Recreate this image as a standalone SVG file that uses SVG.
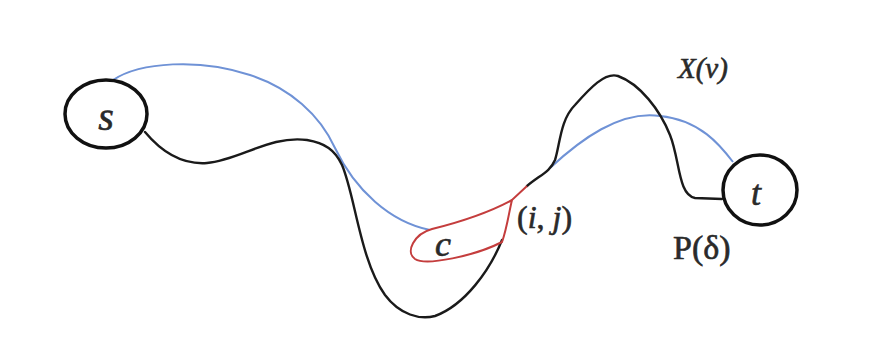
<svg xmlns="http://www.w3.org/2000/svg" width="880" height="361" viewBox="0 0 880 361">
<style>
.lbl{font-family:"Liberation Serif","DejaVu Serif",serif;fill:#2a2a2a;stroke:#2a2a2a;stroke-width:0.6}
.it{font-style:italic}
.node{fill:#fff;stroke:#111;stroke-width:3.5}
.blk{fill:none;stroke:#1a1a1a;stroke-width:2.4;stroke-linecap:round}
.blu{fill:none;stroke:#6f92d6;stroke-width:2}
.red{fill:none;stroke:#c43d3d;stroke-width:2}
</style>
<rect width="880" height="361" fill="#fff"/>
<g id="connectors">
<path class="blu" d="M113,80 C140,62 200,58 250,75 C290,88 320,115 335,148 C355,190 390,222 430,230"/>
<path class="blu" d="M550,168 C580,140 620,110 660,116 C700,120 720,145 733,162"/>
<path class="blk" d="M145,132 C160,150 180,165 207,163 C240,160 270,135 307,140 C325,143 335,150 342,165 C355,195 360,260 385,295 C400,315 420,320 435,316 C465,305 490,270 502,240"/>
<path class="blk" d="M527,186 C540,175 550,172 555,160 C560,145 560,120 575,105 C590,88 605,72 618,76 C640,84 660,110 670,135 C680,160 678,195 695,198 L722,199"/>
<path class="red" d="M527,186 L512,200 C490,212 460,222 432,229 C414,234 405,252 415,259 C426,266 475,256 502,242 C507,228 509,212 512,200"/>
</g>
<g id="node-s">
<ellipse class="node" cx="106" cy="114" rx="41" ry="34"/>
<text class="lbl it" x="106" y="130" font-size="40" text-anchor="middle">s</text>
</g>
<g id="node-t">
<ellipse class="node" cx="760" cy="190" rx="37" ry="35"/>
<text class="lbl it" x="756" y="205" font-size="36" text-anchor="middle">t</text>
</g>
<g id="node-c">
<text class="lbl it" x="443" y="256" font-size="36" text-anchor="middle">c</text>
</g>
<text class="lbl" x="517" y="228" font-size="32">(<tspan class="it">i</tspan>, <tspan class="it">j</tspan>)</text>
<text class="lbl it" x="678" y="78" font-size="29">X(ν)</text>
<text class="lbl" x="673" y="259" font-size="34">P(δ)</text>
</svg>
